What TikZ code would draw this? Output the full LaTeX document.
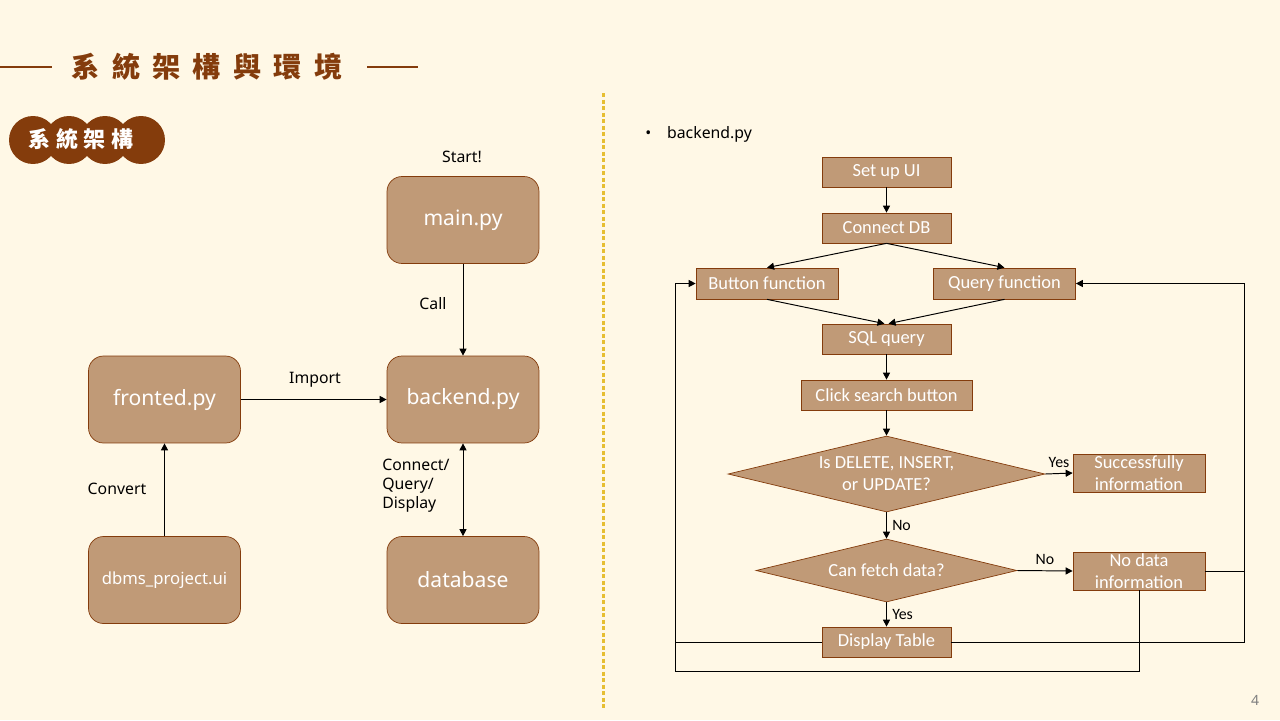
\documentclass[tikz,border=0pt]{standalone}
\usepackage{fontspec}
\setmainfont{Noto Sans}
\newfontfamily\cjk{Noto Sans CJK TC}
\newfontfamily\flow{Carlito}
\usetikzlibrary{arrows.meta,shapes.geometric}
\definecolor{paper}{HTML}{FFF8E6}
\definecolor{rust}{HTML}{843C0C}
\definecolor{tan}{HTML}{C09A77}
\definecolor{gold}{HTML}{E6BE32}
\newcommand\tgap{\hspace{7pt}}
\newcommand\bgap{\hspace{3.4pt}}
\tikzset{
  tip/.style={-{Triangle[length=4pt,width=4pt]}},
  line/.style={draw=black, line width=0.55pt},
  conn/.style={line, tip},
  file/.style={draw=rust, fill=tan, rounded corners=0.3cm, minimum width=3.04cm,
    minimum height=1.74cm, text=white, font=\fontsize{12}{14}\selectfont},
  lbl/.style={text=black, font=\fontsize{9}{10.8}\selectfont, inner sep=0pt},
  stepbox/.style={draw=rust, fill=tan, text=white, inner sep=0pt, align=center,
    font=\flow\fontsize{10.5}{12.5}\selectfont, minimum width=2.58cm, minimum height=0.6cm},
  decide/.style={stepbox, diamond},
  flbl/.style={text=black, font=\flow\fontsize{9}{10}\selectfont, inner sep=3pt}
}
\begin{document}
\begin{tikzpicture}[x=0.02cm,y=-0.02cm]
  \fill[paper] (0,0) rectangle (1280,720);
  \useasboundingbox (0,0) rectangle (1280,720);

  % heading
  \draw[rust, line width=1.7pt] (0,67) -- (52,67);
  \draw[rust, line width=1.7pt] (367,67) -- (418,67);
  \node[text=rust, font=\cjk\bfseries\fontsize{16}{19}\selectfont] (title) at (207,67)
    {系\tgap 統\tgap 架\tgap 構\tgap 與\tgap 環\tgap 境};
  \foreach \cx in {33,69,105,141}
    \fill[rust] (\cx,140) circle (0.48cm);
  \node[text=white, font=\cjk\bfseries\fontsize{12.5}{15}\selectfont] (badge) at (81,139)
    {系\bgap 統\bgap 架\bgap 構};

  % divider
  \draw[gold, line width=1.7pt, dash pattern=on 2.3pt off 1.4pt] (603,93) -- (603,710);

  % files
  \node[file] (main) at (463,220) {main.py};
  \node[file] (backend) at (463,399.5) {backend.py};
  \node[file] (fronted) at (164.5,399.5) {fronted.py};
  \node[file, font=\fontsize{9.5}{11}\selectfont] (ui) at (164.5,580) {dbms\_project.ui};
  \node[file] (db) at (463,580) {database};

  \node[lbl] (start) at (462,157) {Start!};
  \draw[conn] (main) -- (backend);
  \node[lbl] (call) at (433,304) {Call};
  \draw[conn] (fronted) -- (backend);
  \node[lbl] (import) at (315,380) {Import};
  \draw[conn] (ui) -- (fronted);
  \node[lbl] (convert) at (117,489) {Convert};
  \draw[line, {Triangle[length=4pt,width=4pt]}-{Triangle[length=4pt,width=4pt]}] (backend) -- (db);
  \node[lbl, align=left, anchor=west] (cqd) at (382,486) {Connect/\\Query/\\Display};

  % backend.py flow
  \node[lbl, anchor=west] (bullet) at (645,134) {\textbullet\hspace{9pt}backend.py};
  \node[stepbox] (setup) at (886.5,172) {Set up UI};
  \node[stepbox] (connect) at (886.5,228) {Connect DB};
  \node[stepbox, minimum width=2.84cm, minimum height=0.62cm] (button) at (767,283.5) {Button function};
  \node[stepbox, minimum width=2.84cm, minimum height=0.62cm] (query) at (1004.5,283.5) {Query function};
  \node[stepbox] (sql) at (886.5,339) {SQL query};
  \node[stepbox, minimum width=3.42cm] (click) at (886.5,395) {Click search button};
  \node[decide, aspect=4.17, minimum width=6.34cm, minimum height=1.52cm] (dml) at (886.5,474) {Is DELETE, INSERT,\\or UPDATE?};
  \node[stepbox, minimum width=2.64cm, minimum height=0.76cm] (success) at (1139,473) {Successfully\\information};
  \node[decide, aspect=4.14, minimum width=5.22cm, minimum height=1.26cm] (fetch) at (886.5,570.5) {Can fetch data?};
  \node[stepbox, minimum width=2.64cm, minimum height=0.76cm] (nodata) at (1139,571) {No data\\information};
  \node[stepbox] (display) at (886.5,642) {Display Table};

  \coordinate (lcorner) at (675,671);
  \coordinate (rcorner) at (1244,642);

  \draw[conn] (setup) -- (connect);
  \draw[conn] (connect.south) -- (button.north);
  \draw[conn] (connect.south) -- (query.north);
  \draw[conn] (button.south) -- ([xshift=-0.04cm]sql.north);
  \draw[conn] (query.south) -- ([xshift=0.04cm]sql.north);
  \draw[conn] (sql) -- (click);
  \draw[conn] (click) -- (dml);
  \draw[conn] (dml.east) -- node[flbl, above] {Yes} (success.west);
  \draw[conn] (dml.south) -- node[flbl, right] {No} (fetch.north);
  \draw[conn] (fetch.east) -- node[flbl, above] {No} (nodata.west);
  \draw[conn] (fetch.south) -- node[flbl, right] {Yes} (display.north);
  \draw[line] (display.west) -- (display.west -| lcorner);
  \draw[conn] (nodata.south) |- (lcorner) |- (button.west);
  \draw[conn] (display.east) -- (rcorner) |- (query.east);
  \draw[line] (nodata.east) -- (nodata.east -| rcorner);

  \node[text=gray, font=\fontsize{8}{10}\selectfont] (page) at (1255,700) {4};
\end{tikzpicture}
\end{document}
